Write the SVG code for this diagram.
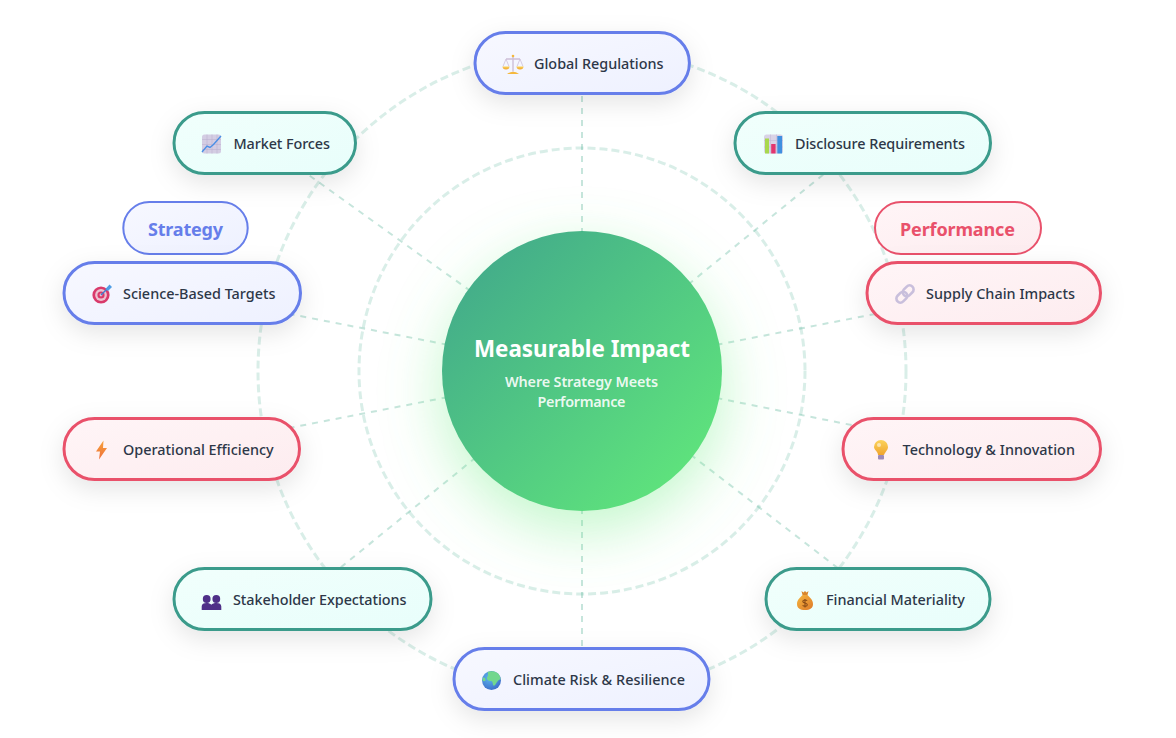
<svg xmlns="http://www.w3.org/2000/svg" width="1176" height="738" viewBox="0 0 1176 738">
<style>
.t{font-family:"Noto Sans","Open Sans",sans-serif;font-size:14.4px;font-weight:500;fill:#2d3748}
.n{stroke-width:3;filter:url(#sh)}
.a{stroke:#667eea;fill:url(#ga)}.b{stroke:#3a9b8b;fill:url(#gb)}.c{stroke:#e9516b;fill:url(#gc)}
.ring{fill:none;stroke:#43aa8b;stroke-opacity:.2;stroke-width:3;stroke-dasharray:8 4}
.sp{stroke:#43aa8b;stroke-opacity:.3;stroke-width:2;stroke-dasharray:6 6;stroke-dashoffset:-5;fill:none}
.l{font-family:"Noto Sans",sans-serif;font-size:18px;font-weight:700;text-anchor:middle}
.s{font-family:"Noto Sans",sans-serif;font-size:14.4px;font-weight:600;fill:#fff;fill-opacity:.9;text-anchor:middle}
</style>
<defs>
<linearGradient id="ga" x1="0" y1="0" x2="1" y2="1"><stop offset="0" stop-color="#f7f8ff"/><stop offset="1" stop-color="#eef1ff"/></linearGradient>
<linearGradient id="gb" x1="0" y1="0" x2="1" y2="1"><stop offset="0" stop-color="#f1fffc"/><stop offset="1" stop-color="#e8fefb"/></linearGradient>
<linearGradient id="gc" x1="0" y1="0" x2="1" y2="1"><stop offset="0" stop-color="#fff5f7"/><stop offset="1" stop-color="#fdecef"/></linearGradient>
<linearGradient id="gm" x1="0" y1="0" x2="1" y2="1"><stop offset="0" stop-color="#3fa48c"/><stop offset="1" stop-color="#63ec7a"/></linearGradient>
<linearGradient id="gold" x1="0" y1="0" x2="0" y2="1"><stop offset="0" stop-color="#fbd35c"/><stop offset="1" stop-color="#f0a52e"/></linearGradient>
<linearGradient id="bag" x1="0" y1="0" x2="1" y2="1"><stop offset="0" stop-color="#f6b63f"/><stop offset="1" stop-color="#dd7a2a"/></linearGradient>
<linearGradient id="bolt" x1="0" y1="0" x2="0" y2="1"><stop offset="0" stop-color="#f7a23c"/><stop offset="1" stop-color="#ee6f3a"/></linearGradient>
<radialGradient id="sea" cx=".4" cy=".35" r=".8"><stop offset="0" stop-color="#5cb8ee"/><stop offset="1" stop-color="#3a62c4"/></radialGradient>
<filter id="sh" x="-30%" y="-60%" width="160%" height="240%"><feDropShadow dx="0" dy="8" stdDeviation="12" flood-color="#000" flood-opacity=".1"/></filter>
<filter id="gl" x="-50%" y="-50%" width="200%" height="200%"><feGaussianBlur stdDeviation="30"/></filter>
</defs>
<rect width="1176" height="738" fill="#fff"/>
<g id="connectors">
<circle class="ring" cx="582" cy="371" r="324"/>
<circle class="ring" cx="582" cy="371" r="223"/>
<path class="sp" d="M582 371L582 63M582 371L862 143M582 371L983 293M582 371L971 449M582 371L878 599M582 371L582 679M582 371L302 599M582 371L181 449M582 371L182 293M582 371L264 143"/>
</g>
<g id="center">
<circle cx="582" cy="391" r="140" fill="#63ec7a" fill-opacity=".4" filter="url(#gl)"/>
<circle cx="582" cy="371" r="140" fill="url(#gm)"/>
<text x="582" y="357" text-anchor="middle" style="font-family:'Noto Sans',sans-serif;font-size:22.4px;font-weight:700;fill:#fff">Measurable Impact</text>
<text class="s" x="581.500" y="387" textLength="153">Where Strategy Meets</text>
<text class="s" x="581.500" y="407" textLength="88">Performance</text>
</g>
<g id="legend-strategy"><rect x="123.300" y="202" width="124.400" height="52" rx="26" fill="url(#ga)" stroke="#667eea" stroke-width="2"/><text class="l" x="185.500" y="235.500" fill="#667eea" textLength="75">Strategy</text></g>
<g id="legend-performance"><rect x="875" y="202" width="166" height="52" rx="26" fill="url(#gc)" stroke="#e9516b" stroke-width="2"/><text class="l" x="957.500" y="235.500" fill="#e9516b" textLength="115">Performance</text></g>

<g id="n1"><rect class="n a" x="475" y="32.500" width="214.400" height="61" rx="30.500"/>
<g transform="translate(513 64.500)"><path d="M0-8V7M-7-5.500H7" stroke="#cdbfd8" stroke-width="1.400" fill="none"/><circle cy="-8.500" r="1.300" fill="#f5b83d"/><path d="M-7-5.500L-10 2M-7-5.500L-4 2M7-5.500L4 2M7-5.500L10 2" stroke="#cdbfd8" stroke-width=".8" fill="none"/><path d="M-10.500 2H-3.500A3.500 3 0 0 1-10.500 2ZM3.500 2H10.500A3.500 3 0 0 1 3.500 2Z" fill="url(#gold)"/><path d="M-6 9.500Q0 5 6 9.500Z" fill="#f5b83d"/></g>
<text class="t" x="534" y="69">Global Regulations</text></g>

<g id="n2"><rect class="n b" x="735" y="112.500" width="255.500" height="61" rx="30.500"/>
<g transform="translate(773.500 144)"><rect x="-9.500" y="-9.500" width="19" height="19" rx="2.500" fill="#d9d3e6"/><path d="M-9.500-3.500H9.500M-9.500 3H9.500M-3-9.500V9.500M3-9.500V9.500" stroke="#c3bbd6" stroke-width=".6"/><rect x="-8.500" y="-5.500" width="4" height="15" fill="#a8d84e"/><rect x="-2.300" y="0" width="4.400" height="9.500" fill="#e2356f"/><rect x="3.800" y="-8" width="4.800" height="17.500" fill="#3f8fe0"/></g>
<text class="t" x="795" y="149" textLength="170">Disclosure Requirements</text></g>

<g id="n3"><rect class="n c" x="867" y="262.500" width="233.500" height="61" rx="30.500"/>
<g transform="translate(905 294) rotate(-45)" fill="none" stroke="#c9bfdc" stroke-width="2.600"><rect x="-10.500" y="-4" width="12" height="8" rx="4"/><rect x="-1.500" y="-4" width="12" height="8" rx="4"/></g>
<text class="t" x="926" y="299" textLength="149">Supply Chain Impacts</text></g>

<g id="n4"><rect class="n c" x="843" y="418.500" width="257.500" height="61" rx="30.500"/>
<g transform="translate(881 450)"><path d="M-7-3A7 7 0 0 1 7-3C7 0 4.500 1.500 3 5H-3C-3 1.500-7 0-7-3Z" fill="url(#gold)"/><circle cx="-2" cy="-5" r="2" fill="#fff" fill-opacity=".55"/><rect x="-3" y="5" width="6" height="4.500" rx="1" fill="#9d8bb8"/></g>
<text class="t" x="902.500" y="455" textLength="172.500">Technology &amp; Innovation</text></g>

<g id="n5"><rect class="n b" x="766" y="568.500" width="224" height="61" rx="30.500"/>
<g transform="translate(805 600.500)"><path d="M-3.500-9.500L-1.500-8L0-9.500L1.500-8L3.500-9.500L2.500-5.500H-2.500Z" fill="#d9862b"/><path d="M-2.500-5.500H2.500C5-3 8-0.500 8 3.500C8 7.500 5 9.500 0 9.500C-5 9.500-8 7.500-8 3.500C-8-0.500-5-3-2.500-5.500Z" fill="url(#bag)"/><path d="M2.200.2C1 -.9-2.300-.8-2.200 1C-2.100 2.900 2.300 2.100 2.300 4.200C2.300 6-1 6.200-2.400 4.800M0-1.500V7" stroke="#8a4b16" stroke-width="1.100" fill="none"/></g>
<text class="t" x="826" y="605">Financial Materiality</text></g>

<g id="n6"><rect class="n a" x="454" y="648.500" width="255" height="61" rx="30.500"/>
<g transform="translate(491.500 680.500)"><circle r="9.500" fill="url(#sea)"/><path d="M-4-8.500C-1-9.500 3-9.500 6-7.500C8-6 9-3 9-1C7-1 6 1 4.500 3C3.500 5 2.500 6 1.500 4.500C1 2.500 1.500 1-.5.500C-3 .5-5-1-4.500-3C-3.500-4-3-6.500-4-8.500Z" fill="#72d78e"/><path d="M-8.500-3C-6.500-3.500-5.500-1.500-6 0C-6.500 1-8.500 1-9 0Z" fill="#72d78e"/></g>
<text class="t" x="513" y="685" textLength="172">Climate Risk &amp; Resilience</text></g>

<g id="n7"><rect class="n b" x="174" y="568.500" width="257" height="61" rx="30.500"/>
<g transform="translate(211.500 602.500)" fill="#4f2f88"><circle cx="-4.800" cy="-3.500" r="3.900"/><circle cx="4.800" cy="-3.500" r="3.900"/><path d="M-9.800 7.500V4C-9.800 1.500-8 .5-4.800.5C-3 .5-1 1-.2 2.200C.6 1 3 .5 4.800.5C8 .5 9.800 1.500 9.800 4V7.500Z"/></g>
<text class="t" x="233" y="605" textLength="173.500">Stakeholder Expectations</text></g>

<g id="n8"><rect class="n c" x="64" y="418.500" width="235.500" height="61" rx="30.500"/>
<path transform="translate(101.500 450)" d="M2-9.500L-5.500 1.500H-1.500L-2.500 9.500L5.500-2H1.500Z" fill="url(#bolt)"/>
<text class="t" x="123" y="455">Operational Efficiency</text></g>

<g id="n9"><rect class="n a" x="64" y="262.500" width="236.500" height="61" rx="30.500"/>
<g transform="translate(101 295)"><circle r="8.600" fill="#d93a6b"/><circle r="5.900" fill="#edc1cf"/><circle r="3.600" fill="#d93a6b"/><circle r="1.400" fill="#edc1cf"/><path d="M0 0L7-7" stroke="#3f7fd0" stroke-width="1.400"/><path d="M4.500-6L8.500-10.500L11-8L7-4Z" fill="#4f9de6"/></g>
<text class="t" x="123" y="299">Science-Based Targets</text></g>

<g id="n10"><rect class="n b" x="174" y="112.500" width="181.500" height="61" rx="30.500"/>
<g transform="translate(211.500 144)"><rect x="-9.500" y="-9.500" width="19" height="19" rx="2.500" fill="#d4cde3"/><path d="M-9.500-4.500H9.500M-9.500 .5H9.500M-9.500 5.500H9.500M-4.500-9.500V9.500M.5-9.500V9.500M5.500-9.500V9.500" stroke="#bdb4d2" stroke-width=".6"/><path d="M-9.500 8L-4.500 2L-1.500 3.500L2 0.500L9.500-8" stroke="#4a8fe6" stroke-width="1.400" fill="none"/></g>
<text class="t" x="233.500" y="149" textLength="96.500">Market Forces</text></g>
</svg>
